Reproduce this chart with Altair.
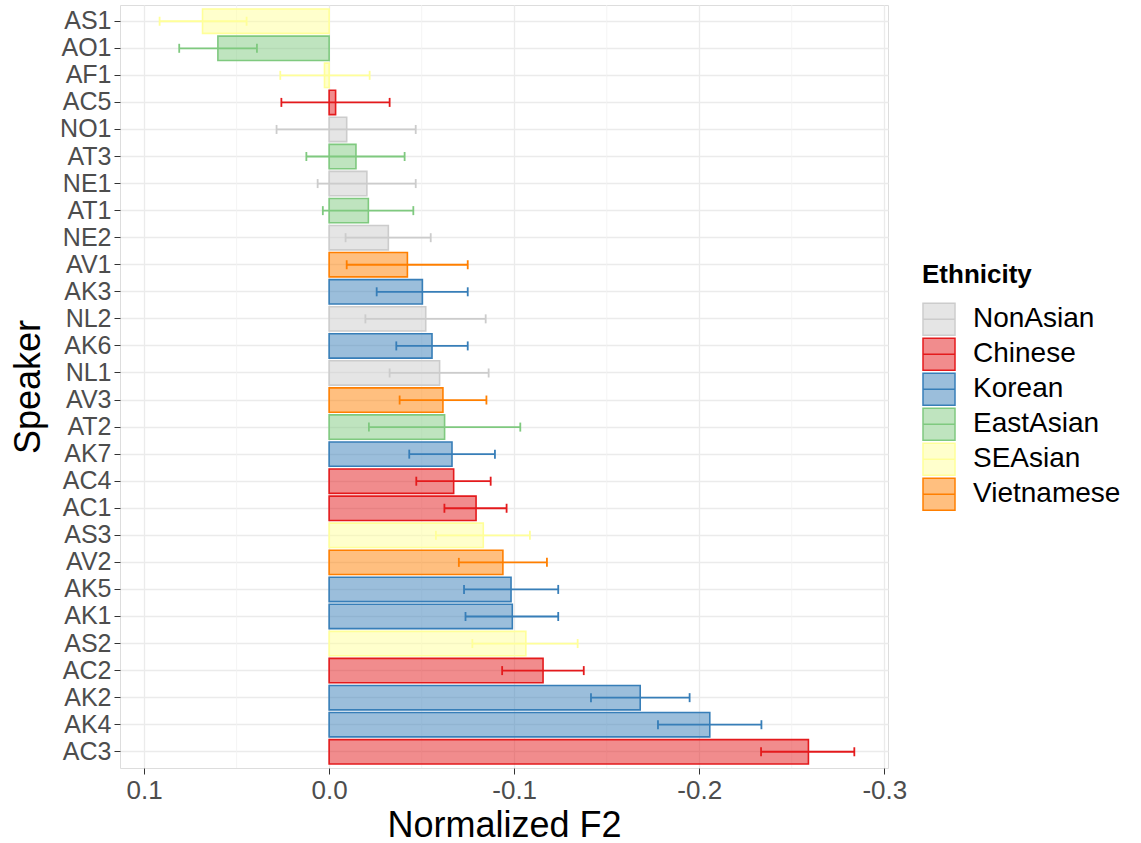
import altair as alt
import pandas as pd

speakers = ["AS1","AO1","AF1","AC5","NO1","AT3","NE1","AT1","NE2","AV1","AK3","NL2","AK6","NL1",
            "AV3","AT2","AK7","AC4","AC1","AS3","AV2","AK5","AK1","AS2","AC2","AK2","AK4","AC3"]
ethnicity = ["SEAsian","EastAsian","SEAsian","Chinese","NonAsian","EastAsian","NonAsian","EastAsian",
             "NonAsian","Vietnamese","Korean","NonAsian","Korean","NonAsian","Vietnamese","EastAsian",
             "Korean","Chinese","Chinese","SEAsian","Vietnamese","Korean","Korean","SEAsian","Chinese",
             "Korean","Korean","Chinese"]
f2 = [0.0684,0.0601,0.0025,-0.0035,-0.0095,-0.0145,-0.0204,-0.0212,-0.032,-0.0423,-0.0504,-0.0522,
      -0.0556,-0.0597,-0.0615,-0.0624,-0.0664,-0.0673,-0.0794,-0.0833,-0.0939,-0.0983,-0.099,-0.1063,
      -0.1156,-0.1681,-0.2057,-0.259]
err_lo = [0.0916,0.081,0.0264,0.0258,0.0284,0.0123,0.0062,0.0034,-0.0089,-0.0095,-0.0257,-0.0196,
          -0.0363,-0.0327,-0.0381,-0.0215,-0.0433,-0.0471,-0.0623,-0.0577,-0.0701,-0.0729,-0.0737,
          -0.0774,-0.0935,-0.1415,-0.1777,-0.2334]
err_hi = [0.0446,0.039,-0.0219,-0.0327,-0.0468,-0.0408,-0.0468,-0.0455,-0.0549,-0.0749,-0.0749,-0.0846,
          -0.0749,-0.0862,-0.085,-0.1033,-0.0896,-0.0873,-0.0959,-0.1085,-0.1177,-0.1238,-0.1238,
          -0.1343,-0.1376,-0.1948,-0.2336,-0.2838]

groups = ["NonAsian","Chinese","Korean","EastAsian","SEAsian","Vietnamese"]
colors = ["#CCCCCC","#E41A1C","#377EB8","#7FC97F","#FFFF99","#FF7F00"]
fills = ["rgba(204,204,204,0.5)","rgba(228,26,28,0.5)","rgba(55,126,184,0.5)",
         "rgba(127,201,127,0.5)","rgba(255,255,153,0.5)","rgba(255,127,0,0.5)"]
major_ticks = [0.1, 0.0, -0.1, -0.2, -0.3]
minor_ticks = [0.05, -0.05, -0.15, -0.25]

df = pd.DataFrame({"Speaker": speakers, "Ethnicity": ethnicity, "F2": f2, "lo": err_lo, "hi": err_hi})
minor_df = pd.DataFrame({"m": minor_ticks})

FONT = "Liberation Sans"
W, H = 768, 763

xscale = alt.Scale(domain=[-0.302, 0.113], reverse=True, nice=False, zero=False)
yscale = alt.Scale(domain=speakers, paddingInner=0.1, paddingOuter=0.15)
stroke_scale = alt.Scale(domain=groups, range=colors)
fill_scale = alt.Scale(domain=groups, range=fills)

legend = alt.Legend(
    title="Ethnicity", orient="none", legendX=802, legendY=257,
    titleFontSize=26, titleFontWeight="bold", titleColor="black", titleFont=FONT,
    labelFontSize=28, labelColor="black", labelFont=FONT,
    symbolType="M-1,-1H1V1H-1ZM-1,0H1", symbolSize=1024, symbolStrokeWidth=1.5,
    rowPadding=0, clipHeight=34.5, labelOffset=17, titlePadding=14,
)

xaxis = alt.Axis(
    values=major_ticks, labelExpr="replace(format(datum.value, '.1f'), '\u2212', '-')",
    title="Normalized F2", titleFontSize=36, titleFontWeight="normal", titleColor="black",
    titleFont=FONT, titleY=57, titleBaseline="middle",
    labelFontSize=26, labelColor="#4D4D4D", labelFont=FONT, labelPadding=3,
    tickColor="#333333", tickSize=6, domain=False,
    grid=True, gridColor="#EBEBEB", gridWidth=1.3,
)
yaxis = alt.Axis(
    title="Speaker", titleFontSize=36, titleFontWeight="normal", titleColor="black",
    titleFont=FONT, titleAngle=-90, titleX=-92, titleY=H / 2, titleBaseline="middle", titleAlign="center",
    labelFontSize=25, labelColor="#4D4D4D", labelFont=FONT, labelPadding=3,
    tickColor="#333333", tickSize=6, domain=False,
    grid=True, gridColor="#EBEBEB", gridWidth=1.3, bandPosition=0.5,
)

minor = alt.Chart(minor_df).mark_rule(color="#F3F3F3", strokeWidth=0.8).encode(
    x=alt.X("m:Q", scale=xscale, axis=xaxis)
)

base = alt.Chart(df)

bars = base.mark_bar(strokeWidth=1.6).encode(
    y=alt.Y("Speaker:N", scale=yscale, sort=speakers, axis=yaxis),
    x=alt.X("F2:Q", scale=xscale, axis=xaxis),
    x2=alt.datum(0),
    fill=alt.Fill("Ethnicity:N", scale=fill_scale, legend=legend),
    stroke=alt.Stroke("Ethnicity:N", scale=stroke_scale, legend=legend),
)

ycommon = alt.Y("Speaker:N", scale=yscale, sort=speakers)
ecolor = alt.Color("Ethnicity:N", scale=stroke_scale, legend=None)

rules = base.mark_rule(strokeWidth=1.8).encode(
    y=ycommon, x=alt.X("lo:Q", scale=xscale), x2="hi:Q", color=ecolor,
)
cap_lo = base.mark_tick(thickness=1.8, size=9, opacity=1).encode(
    y=ycommon, x=alt.X("lo:Q", scale=xscale), color=ecolor,
)
cap_hi = base.mark_tick(thickness=1.8, size=9, opacity=1).encode(
    y=ycommon, x=alt.X("hi:Q", scale=xscale), color=ecolor,
)

chart = alt.layer(minor, bars, rules, cap_lo, cap_hi).properties(
    width=W, height=H,
    autosize=alt.AutoSizeParams(type="none"),
    padding={"left": 120, "top": 5, "right": 253, "bottom": 75},
).configure_view(stroke="#333333", strokeWidth=1.2).configure(font=FONT, background="white")

chart.save("out.html", embed_options={"renderer": "svg", "actions": False})
